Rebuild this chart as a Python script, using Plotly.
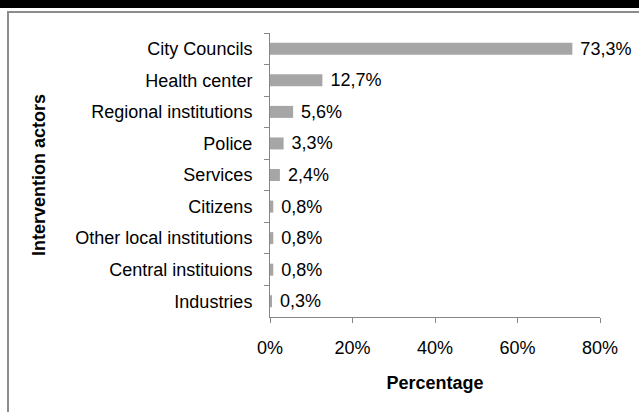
import plotly.graph_objects as go

actors = [
    "City Councils",
    "Health center",
    "Regional institutions",
    "Police",
    "Services",
    "Citizens",
    "Other local institutions",
    "Central instituions",
    "Industries",
]
shares = [73.3, 12.7, 5.6, 3.3, 2.4, 0.8, 0.8, 0.8, 0.3]
x_ticks = [0, 0.2, 0.4, 0.6, 0.8]
x_tick_labels = ["0%", "20%", "40%", "60%", "80%"]

W, H = 639, 412
L, R, T, B = 270, 39, 33, 95
pw, ph = W - L - R, H - T - B


def px(x):
    return (x - L) / pw


def py(y):
    return (H - B - y) / ph


font = "Liberation Sans, Arial, sans-serif"
axis_grey = "#868686"

fig = go.Figure(
    go.Bar(
        x=[v / 100 for v in shares],
        y=actors,
        orientation="h",
        width=0.38,
        marker=dict(color="#a6a6a6", line=dict(width=0)),
        text=[" " + f"{v:.1f}".replace(".", ",") + "%" for v in shares],
        textposition="outside",
        constraintext="none",
        textfont=dict(family=font, size=18, color="#000000"),
        cliponaxis=False,
    )
)

fig.update_layout(
    width=W,
    height=H,
    margin=dict(l=L, r=R, t=T, b=B, autoexpand=False),
    paper_bgcolor="white",
    plot_bgcolor="white",
    showlegend=False,
    font=dict(family=font, size=18, color="#000000"),
    xaxis=dict(
        range=[0, 0.8],
        tickvals=x_ticks,
        ticktext=x_tick_labels,
        showgrid=False,
        zeroline=False,
        showline=True,
        linecolor=axis_grey,
        linewidth=1,
        ticks="outside",
        ticklen=5,
        tickcolor=axis_grey,
        ticklabelstandoff=9,
        automargin=False,
        title=dict(
            text="<b>Percentage</b>",
            font=dict(family=font, size=18),
            standoff=19,
        ),
    ),
    yaxis=dict(
        categoryorder="array",
        categoryarray=actors,
        autorange="reversed",
        showgrid=False,
        zeroline=False,
        showline=True,
        linecolor=axis_grey,
        linewidth=1,
        ticks="outside",
        ticklen=5,
        tickcolor=axis_grey,
        tickson="boundaries",
        ticklabelstandoff=13,
        automargin=False,
        title=dict(
            text="<b>Intervention actors</b>",
            font=dict(family=font, size=18),
            standoff=25,
        ),
    ),
    shapes=[
        dict(
            type="rect",
            xref="paper",
            yref="paper",
            x0=px(-5),
            x1=px(W + 5),
            y0=py(8),
            y1=py(-5),
            fillcolor="#000000",
            line=dict(width=0),
            layer="above",
        ),
        dict(
            type="rect",
            xref="paper",
            yref="paper",
            x0=px(8),
            x1=px(W + 20),
            y0=py(H + 20),
            y1=py(12),
            fillcolor="rgba(0,0,0,0)",
            line=dict(color="#8c8c8c", width=2),
            layer="above",
        ),
    ],
)

fig.write_html(
    "out.html",
    config={"displayModeBar": False},
    post_script="document.body.style.margin='0';",
)
